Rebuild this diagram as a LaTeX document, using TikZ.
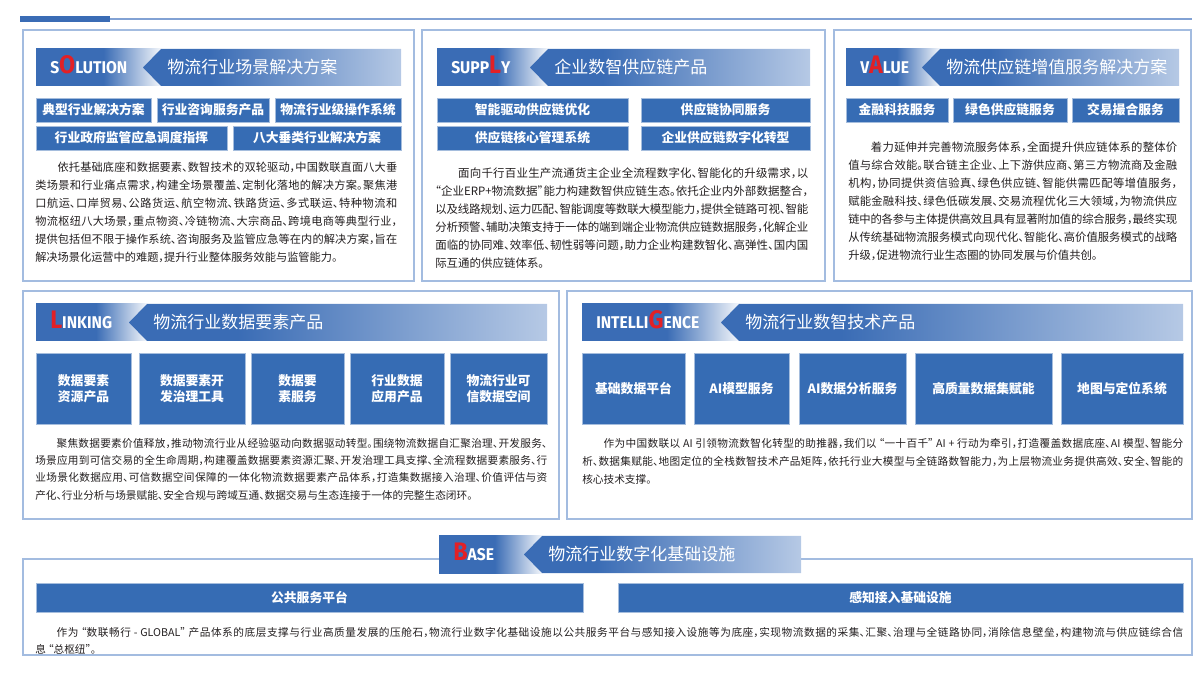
\documentclass[tikz,border=0pt]{standalone}
\usepackage{fontspec}
\setmainfont{Noto Sans CJK SC}
\newfontfamily\bodyfont{Noto Sans CJK SC}[RawFeature={+halt}]
\newfontfamily\lblfont{Fira Sans}[FakeStretch=0.92]
\usepackage{tikz}
\usetikzlibrary{
  positioning,
  fit,
}
\XeTeXlinebreaklocale "zh"
\XeTeXlinebreakskip=0pt plus 1pt minus 0.25pt

\definecolor{hdblue}{RGB}{58,108,181}
\definecolor{hdlight}{RGB}{182,201,229}
\definecolor{btnblue}{RGB}{54,108,180}
\definecolor{panelline}{RGB}{163,188,224}
\definecolor{topline}{RGB}{130,162,212}
\definecolor{hlred}{RGB}{226,32,38}
\definecolor{bodytext}{RGB}{35,31,32}

\pgfdeclarehorizontalshading{hdfade}{100bp}{color(0bp)=(hdblue); color(25bp)=(hdblue); color(52bp)=(hdblue); color(75bp)=(hdblue!6); color(100bp)=(hdblue!6)}
\pgfdeclarehorizontalshading{hdgrad}{100bp}{color(0bp)=(hdblue); color(25bp)=(hdblue); color(38bp)=(hdblue); color(75bp)=(hdlight); color(100bp)=(hdlight)}

% header bar: name, left x, top y, right x, tip x, label, title
\newcommand{\hdbar}[7]{%
  \shade[shading=hdfade] (#2,#3) rectangle (#5+18,#3+37);
  \shade[shading=hdgrad] (#5,#3+18.5) -- (#5+18,#3) -- (#4,#3) -- (#4,#3+37)
    -- (#5+18,#3+37) -- cycle;
  \node[hdlabel] (#1lbl) at (#2+14,#3+24.5) {#6};
  \node[hdtitle] (#1ttl) at (#5+24,#3+25) {#7};
}
\newcommand{\red}[1]{{\color{hlred}\fontsize{19pt}{19pt}\selectfont #1}}

\begin{document}
\begin{tikzpicture}[
  x=0.75pt, y=-0.75pt,
  panel/.style={draw=panelline, line width=0.8pt, inner sep=0pt},
  bx/.style 2 args={minimum width=#1*0.75pt, minimum height=#2*0.75pt},
  btn/.style={fill=btnblue, draw=btnblue!45, line width=0.5pt, inner sep=0pt,
    text=white, font=\fontsize{9.6pt}{12pt}\selectfont\bfseries,
    text height=8.45pt, text depth=1.15pt},
  lbtn/.style={btn, align=center, text height=20.45pt},
  hdlabel/.style={anchor=base west, inner sep=0pt, text=white,
    font=\lblfont\bfseries\fontsize{12.75pt}{14pt}\selectfont},
  hdtitle/.style={anchor=base west, inner sep=0pt, text=white,
    font=\fontsize{12.75pt}{14pt}\selectfont},
  body/.style={anchor=north west, inner sep=0pt, align=justify, text=bodytext},
]
\useasboundingbox (0,0) rectangle (1203,680);

%% top mark
\fill[hdblue] (20,16) rectangle (110,22);
\draw[topline, line width=0.8pt] (110,19) -- (1192,19);

%% panels
\node[panel, fit={(23,30) (414,281)}] (solution) {};
\node[panel, fit={(422,30) (825,281)}] (supply) {};
\node[panel, fit={(834,30) (1191,281)}] (value) {};
\node[panel, fit={(23,291) (559,519)}] (linking) {};
\node[panel, fit={(567,291) (1192,519)}] (intel) {};
\node[panel, fit={(23,559) (1192,655)}] (base) {};

%% SOLUTION
\hdbar{sol}{36}{49}{401}{143}{S\red{O}LUTION}{物流行业场景解决方案}
\node[btn, bx={115}{24}] (sol1) at (93.5,110) {典型行业解决方案};
\node[btn, bx={112}{24}] (sol2) at (213,110) {行业咨询服务产品};
\node[btn, bx={126}{24}] (sol3) at (338,110) {物流行业级操作系统};
\node[btn, bx={191}{24}] (sol4) at (131.5,138) {行业政府监管应急调度指挥};
\node[btn, bx={168}{24}] (sol5) at (317,138) {八大垂类行业解决方案};
\node[body, text width=271.5pt, font=\bodyfont\fontsize{8.4pt}{13.5pt}\selectfont]
  (soltext) at (35,161.5) {\hspace*{2em}依托基础底座和数据要素、数智技术的双轮驱动，中国数联直面八大垂\linebreak%
类场景和行业痛点需求，构建全场景覆盖、定制化落地的解决方案。聚焦港\linebreak%
口航运、口岸贸易、公路货运、航空物流、铁路货运、多式联运、特种物流和\linebreak%
物流枢纽八大场景，重点物资、冷链物流、大宗商品、跨境电商等典型行业，\linebreak%
提供包括但不限于操作系统、咨询服务及监管应急等在内的解决方案，旨在\linebreak%
解决场景化运营中的难题，提升行业整体服务效能与监管能力。};

%% SUPPLY
\hdbar{sup}{437}{49}{810}{530}{SUPP\red{L}Y}{企业数智供应链产品}
\node[btn, bx={191}{24}] (sup1) at (532.5,110) {智能驱动供应链优化};
\node[btn, bx={169}{24}] (sup2) at (725.5,110) {供应链协同服务};
\node[btn, bx={191}{24}] (sup3) at (532.5,138) {供应链核心管理系统};
\node[btn, bx={169}{24}] (sup4) at (725.5,138) {企业供应链数字化转型};
\node[body, text width=279.75pt, font=\bodyfont\fontsize{8.6pt}{13.5pt}\selectfont]
  (suptext) at (435,167.5) {\hspace*{2em}面向千行百业生产流通货主企业全流程数字化、智能化的升级需求，以\linebreak%
“企业ERP+物流数据”能力构建数智供应链生态。依托企业内外部数据整合，\linebreak%
以及线路规划、运力匹配、智能调度等数联大模型能力，提供全链路可视、智能\linebreak%
分析预警、辅助决策支持于一体的端到端企业物流供应链数据服务，化解企业\linebreak%
面临的协同难、效率低、韧性弱等问题，助力企业构建数智化、高弹性、国内国\linebreak%
际互通的供应链体系。};

%% VALUE
\hdbar{val}{846}{49}{1179}{922}{V\red{A}LUE}{物流供应链增值服务解决方案}
\node[btn, bx={102}{24}] (val1) at (897,110) {金融科技服务};
\node[btn, bx={114}{24}] (val2) at (1010,110) {绿色供应链服务};
\node[btn, bx={107}{24}] (val3) at (1125.5,110) {交易撮合服务};
\node[body, text width=246.75pt, font=\bodyfont\fontsize{8.5pt}{13.5pt}\selectfont]
  (valtext) at (848,141.5) {\hspace*{2em}着力延伸并完善物流服务体系，全面提升供应链体系的整体价\linebreak%
值与综合效能。联合链主企业、上下游供应商、第三方物流商及金融\linebreak%
机构，协同提供资信验真、绿色供应链、智能供需匹配等增值服务，\linebreak%
赋能金融科技、绿色低碳发展、交易流程优化三大领域，为物流供应\linebreak%
链中的各参与主体提供高效且具有显著附加值的综合服务，最终实现\linebreak%
从传统基础物流服务模式向现代化、智能化、高价值服务模式的战略\linebreak%
升级，促进物流行业生态圈的协同发展与价值共创。};

%% LINKING
\hdbar{lnk}{36}{304}{547}{129}{\red{L}INKING}{物流行业数据要素产品}
\node[lbtn, bx={95}{71}] (lnk1) at (83.5,388.5) {数据要素\\资源产品};
\node[lbtn, bx={106}{71}] (lnk2) at (192,388.5) {数据要素开\\发治理工具};
\node[lbtn, bx={93}{71}] (lnk3) at (297.5,388.5) {数据要\\素服务};
\node[lbtn, bx={94}{71}] (lnk4) at (397,388.5) {行业数据\\应用产品};
\node[lbtn, bx={97}{71}] (lnk5) at (498.5,388.5) {物流行业可\\信数据空间};
\node[body, text width=384pt, font=\bodyfont\fontsize{8pt}{13pt}\selectfont]
  (lnktext) at (35,438) {\hspace*{2em}聚焦数据要素价值释放，推动物流行业从经验驱动向数据驱动转型。围绕物流数据自汇聚治理、开发服务、\linebreak%
场景应用到可信交易的全生命周期，构建覆盖数据要素资源汇聚、开发治理工具支撑、全流程数据要素服务、行\linebreak%
业场景化数据应用、可信数据空间保障的一体化物流数据要素产品体系，打造集数据接入治理、价值评估与资\linebreak%
产化、行业分析与场景赋能、安全合规与跨域互通、数据交易与生态连接于一体的完整生态闭环。};

%% INTELLIGENCE
\hdbar{itl}{582}{304}{1183}{721}{INTELLI\red{G}ENCE}{物流行业数智技术产品}
\node[btn, bx={103}{71}] (itl1) at (633.5,388.5) {基础数据平台};
\node[btn, bx={95}{71}] (itl2) at (741.5,388.5) {AI模型服务};
\node[btn, bx={107}{71}] (itl3) at (852.5,388.5) {AI数据分析服务};
\node[btn, bx={137}{71}] (itl4) at (983.5,388.5) {高质量数据集赋能};
\node[btn, bx={122}{71}] (itl5) at (1122,388.5) {地图与定位系统};
\node[body, text width=450.75pt, font=\bodyfont\fontsize{8pt}{13.5pt}\selectfont]
  (itltext) at (582,438) {\hspace*{2em}作为中国数联以 AI 引领物流数智化转型的助推器，我们以 “一十百千” AI + 行动为牵引，打造覆盖数据底座、AI 模型、智能分\linebreak%
析、数据集赋能、地图定位的全栈数智技术产品矩阵，依托行业大模型与全链路数智能力，为上层物流业务提供高效、安全、智能的\linebreak%
核心技术支撑。};

%% BASE
\hdbar{bas}{439}{536}{801}{524}{\red{B}ASE}{物流行业数字化基础设施}
\node[btn, bx={547}{29}] (bas1) at (309.5,597.5) {公共服务平台};
\node[btn, bx={565}{29}] (bas2) at (900.5,597.5) {感知接入基础设施};
\node[body, text width=861pt, font=\bodyfont\fontsize{8pt}{12.5pt}\selectfont]
  (bastext) at (35,627) {\hspace*{2em}作为 “数联畅行 - GLOBAL” 产品体系的底层支撑与行业高质量发展的压舱石，物流行业数字化基础设施以公共服务平台与感知接入设施等为底座，实现物流数据的采集、汇聚、治理与全链路协同，消除信息壁垒，构建物流与供应链综合信\linebreak%
息 “总枢纽”。};

\end{tikzpicture}
\end{document}
